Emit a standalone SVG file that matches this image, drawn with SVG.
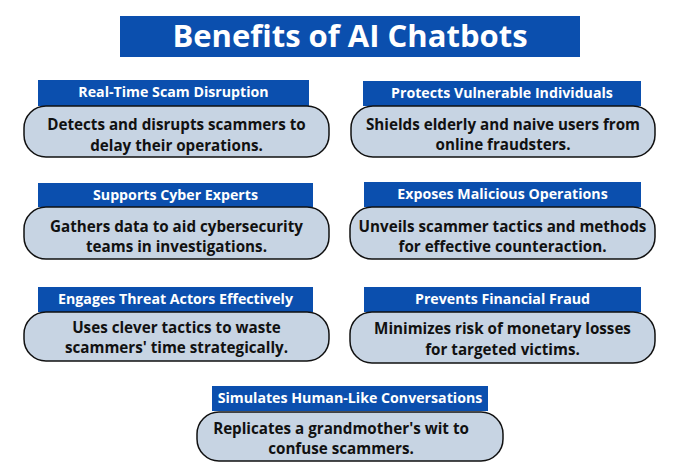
<svg xmlns="http://www.w3.org/2000/svg" width="700" height="470" viewBox="0 0 700 470">
<style>
.hdr{fill:#0b4fae}
.pill{fill:#c7d4e3;stroke:#111;stroke-width:1.5}
.ht{font-family:"Open Sans","Liberation Sans",sans-serif;font-weight:700;font-size:14.2px;fill:#fff;text-anchor:middle}
.bt{font-family:"Open Sans","Liberation Sans",sans-serif;font-weight:700;font-size:15.2px;fill:#111;text-anchor:middle}
.title{font-family:"Open Sans","Liberation Sans",sans-serif;font-weight:700;font-size:31px;fill:#fff;text-anchor:middle}
</style>
<rect width="700" height="470" fill="#fff"/>
<g id="title">
<rect x="120" y="16" width="460" height="41" class="hdr"/>
<text x="350" y="46.5" class="title">Benefits of AI Chatbots</text>
</g>
<g id="n1">
<rect x="38" y="80" width="271" height="26" class="hdr"/>
<text x="173.5" y="97" class="ht">Real-Time Scam Disruption</text>
<rect x="24" y="106" width="305" height="51" rx="22" class="pill"/>
<text x="176.5" y="130" class="bt">Detects and disrupts scammers to</text>
<text x="176.5" y="150.5" class="bt">delay their operations.</text>
</g>
<g id="n2">
<rect x="363" y="81" width="278" height="25" class="hdr"/>
<text x="502" y="97.5" class="ht">Protects Vulnerable Individuals</text>
<rect x="351" y="106" width="304" height="51" rx="22" class="pill"/>
<text x="503" y="129.5" class="bt">Shields elderly and naive users from</text>
<text x="503" y="150" class="bt">online fraudsters.</text>
</g>
<g id="n3">
<rect x="38" y="183" width="275" height="24" class="hdr"/>
<text x="175.5" y="199.5" class="ht">Supports Cyber Experts</text>
<rect x="24" y="207" width="305" height="52" rx="22" class="pill"/>
<text x="176.5" y="231.5" class="bt">Gathers data to aid cybersecurity</text>
<text x="176.5" y="252" class="bt">teams in investigations.</text>
</g>
<g id="n4">
<rect x="364" y="182" width="277" height="25" class="hdr"/>
<text x="502.5" y="198.5" class="ht">Exposes Malicious Operations</text>
<rect x="350" y="207" width="305" height="52" rx="22" class="pill"/>
<text x="502.5" y="231.5" class="bt">Unveils scammer tactics and methods</text>
<text x="502.5" y="252" class="bt">for effective counteraction.</text>
</g>
<g id="n5">
<rect x="38" y="287" width="275" height="25" class="hdr"/>
<text x="175.5" y="303.5" class="ht">Engages Threat Actors Effectively</text>
<rect x="24" y="312" width="305" height="49" rx="22" class="pill"/>
<text x="176.5" y="332.5" class="bt">Uses clever tactics to waste</text>
<text x="176.5" y="353" class="bt">scammers' time strategically.</text>
</g>
<g id="n6">
<rect x="364" y="287" width="277" height="25" class="hdr"/>
<text x="502.5" y="303.5" class="ht">Prevents Financial Fraud</text>
<rect x="350" y="312" width="305" height="51" rx="22" class="pill"/>
<text x="502.5" y="333.5" class="bt">Minimizes risk of monetary losses</text>
<text x="502.5" y="354.5" class="bt">for targeted victims.</text>
</g>
<g id="n7">
<rect x="212" y="386" width="276" height="25" class="hdr"/>
<text x="350" y="402.5" class="ht">Simulates Human-Like Conversations</text>
<rect x="197" y="412" width="306" height="49" rx="22" class="pill"/>
<text x="341" y="434" class="bt">Replicates a grandmother's wit to</text>
<text x="341" y="454" class="bt">confuse scammers.</text>
</g>
<g id="connectors"/>
</svg>
